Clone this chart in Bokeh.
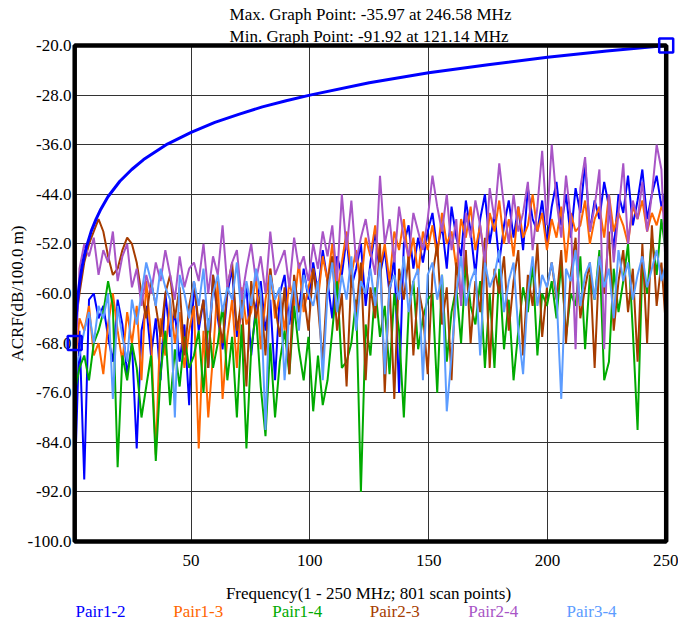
import numpy as np
from bokeh.plotting import figure
from bokeh.layouts import column
from bokeh.models import (FixedTicker, PrintfTickFormatter, Range1d, Title, BoxAnnotation)
from bokeh.core.properties import value
from bokeh.embed import file_html
from bokeh.resources import INLINE

# ---------------- data ----------------
freq = np.linspace(1, 250, 125)  # MHz (scan points, decimated)

pair12 = [-91, -66, -90, -61, -60, -64, -62, -67, -71, -61, -65, -73, -68, -85, -66, -62, -70, -64, -74, -60, -67, -63, -71, -65, -78,
          -58, -66, -61, -72, -57, -64, -69, -60, -56, -67, -63, -59, -70, -62, -58, -66, -61, -74, -60, -57, -65, -59, -63, -56, -61,
          -55, -60, -53, -58, -64, -54, -57, -51, -59, -56, -52, -62, -55, -50, -57, -53, -60, -54, -76, -52, -49, -56, -51, -55, -50,
          -47, -53, -49, -56, -46, -51, -54, -45, -50, -57, -48, -44, -52, -47, -55, -49, -45, -51, -46, -53, -43, -48, -50, -45, -52,
          -46, -42, -49, -44, -51, -43, -47, -39, -50, -45, -48, -42, -46, -53, -44, -47, -41, -49, -45, -40, -48, -44, -41, -46, -43]
pair13 = [-72, -64, -66, -62, -70, -68, -73, -65, -60, -66, -71, -63, -68, -62, -74, -58, -67, -86, -64, -70, -61, -68, -63, -72, -66,
          -62, -85, -66, -80, -70, -58, -77, -67, -61, -72, -59, -65, -63, -57, -69, -61, -56, -64, -60, -66, -58, -62, -55, -63, -59,
          -56, -61, -54, -58, -52, -60, -55, -50, -57, -53, -59, -51, -54, -49, -56, -52, -58, -50, -53, -48, -55, -51, -57, -50, -53,
          -49, -54, -47, -52, -50, -56, -48, -51, -46, -53, -49, -55, -47, -50, -45, -52, -48, -54, -46, -51, -49, -44, -50, -47, -53,
          -48, -51, -46, -55, -47, -50, -49, -45, -52, -48, -46, -51, -44, -50, -47, -49, -52, -46, -48, -45, -50, -47, -49, -46, -48]
pair14 = [-76, -72, -70, -74, -68, -66, -63, -58, -62, -88, -70, -74, -68, -72, -80, -75, -70, -87, -73, -66, -78, -69, -75, -67, -72,
          -70, -66, -76, -64, -72, -68, -62, -74, -67, -80, -65, -85, -69, -63, -75, -83, -68, -80, -71, -66, -73, -62, -69, -74, -67,
          -79, -70, -78, -74, -66, -58, -72, -71, -68, -61, -92, -65, -70, -59, -67, -62, -73, -60, -66, -80, -63, -58, -69, -64, -61,
          -60, -76, -57, -71, -63, -59, -68, -55, -62, -65, -58, -72, -60, -72, -56, -69, -61, -74, -66, -59, -63, -55, -70, -60, -62,
          -58, -64, -55, -67, -60, -62, -54, -69, -57, -61, -53, -74, -71, -56, -63, -58, -52, -66, -82, -55, -60, -51, -57, -48, -54]
pair23 = [-66, -60, -55, -52, -50, -48, -50, -54, -57, -56, -53, -51, -52, -55, -60, -64, -58, -62, -67, -60, -57, -64, -59, -70, -62,
          -58, -65, -61, -72, -57, -63, -68, -59, -55, -66, -61, -75, -58, -64, -60, -70, -56, -62, -67, -59, -73, -57, -63, -60, -66,
          -56, -62, -71, -58, -54, -66, -60, -75, -57, -63, -55, -74, -59, -64, -52, -76, -58, -77, -56, -61, -54, -70, -59, -63, -73,
          -57, -52, -65, -59, -74, -55, -61, -53, -68, -58, -63, -51, -72, -56, -60, -54, -66, -58, -53, -70, -57, -62, -52, -67, -59,
          -55, -61, -53, -68, -57, -51, -64, -59, -55, -72, -54, -60, -50, -66, -58, -53, -63, -56, -71, -52, -68, -49, -62, -55, -66]
pair24 = [-74, -56, -52, -54, -51, -57, -53, -55, -50, -58, -54, -52, -59, -56, -62, -57, -60, -55, -58, -53, -57, -61, -54, -59, -56,
          -55, -58, -52, -60, -54, -57, -49, -59, -55, -53, -61, -56, -52, -58, -54, -60, -50, -57, -55, -53, -59, -51, -56, -54, -58,
          -52, -56, -50, -54, -49, -58, -44, -53, -45, -55, -51, -48, -53, -57, -41, -52, -48, -55, -46, -51, -54, -47, -50, -53, -48,
          -41, -46, -50, -44, -53, -48, -62, -47, -51, -45, -49, -55, -43, -48, -39, -46, -52, -44, -50, -47, -42, -53, -46, -37, -49,
          -36, -45, -51, -41, -48, -69, -43, -38, -50, -46, -40, -69, -44, -55, -47, -39, -52, -45, -48, -42, -50, -44, -36, -40, -58]
pair34 = [-72, -70, -66, -63, -68, -62, -64, -60, -77, -62, -67, -71, -61, -65, -60, -55, -58, -62, -56, -59, -61, -80, -57, -60, -64,
          -58, -62, -56, -66, -60, -57, -63, -59, -61, -55, -64, -58, -62, -56, -60, -82, -57, -61, -59, -74, -63, -58, -66, -57, -60,
          -62, -58, -74, -60, -55, -63, -57, -61, -54, -66, -58, -60, -56, -62, -55, -73, -59, -57, -61, -54, -63, -58, -56, -74, -57,
          -55, -61, -57, -79, -70, -60, -54, -62, -58, -56, -70, -55, -59, -57, -53, -63, -58, -55, -66, -73, -60, -54, -62, -57, -59,
          -55, -60, -77, -56, -58, -53, -62, -57, -55, -61, -54, -59, -56, -64, -53, -58, -55, -61, -57, -54, -59, -56, -53, -58, -55]

limit_freq = [1, 1.5, 2, 2.5, 3, 4, 5, 6, 8, 10, 12, 15, 20, 25, 30, 40, 50, 60, 70, 80, 90, 100, 125, 150, 175, 200, 225, 250]
limit_db = [-68.0, -64.4, -61.9, -60.0, -58.4, -55.9, -54.0, -52.4, -49.9, -48.0, -46.4, -44.4, -41.9, -40.0, -38.4, -35.9,
            -34.0, -32.4, -31.1, -29.9, -28.9, -28.0, -26.0, -24.4, -23.1, -21.9, -20.9, -20.0]
marker_freq = [1, 250]
marker_db = [-68, -20]

series_names = ["Pair1-2", "Pair1-3", "Pair1-4", "Pair2-3", "Pair2-4", "Pair3-4"]
series_colors = ["#0000FF", "#FF6600", "#00AA00", "#A63C00", "#A855C6", "#5C9CFF"]
x_ticks = [50, 100, 150, 200, 250]
y_ticks = [-100, -92, -84, -76, -68, -60, -52, -44, -36, -28, -20]
x_lo, x_hi = 1, 250
y_lo, y_hi = -100, -20

title1 = "Max. Graph Point: -35.97 at 246.58 MHz"
title2 = "Min. Graph Point: -91.92 at 121.14 MHz"
x_title = "Frequency(1 - 250 MHz; 801 scan points)"
y_title = "ACRF(dB/100.0 m)"

FONT = "Liberation Serif"
FS = "17px"

# ---------------- layout constants (pixels) ----------------
BOX_W, BOX_H = 591.5, 496.0      # size of the bordered plot box
FRAME_W, FRAME_H = 608, 512      # frame is a bit larger so the end markers show
BORDER_L, BORDER_R = 66, 4
BORDER_T, BORDER_B = 37, 23
PAD_L = 8.2
PAD_T = 8
ppx = BOX_W / (x_hi - x_lo)
ppy = BOX_H / (y_hi - y_lo)
xr = Range1d(x_lo - PAD_L / ppx, x_hi + (FRAME_W - PAD_L - BOX_W) / ppx)
yr = Range1d(y_lo - (FRAME_H - PAD_T - BOX_H) / ppy, y_hi + PAD_T / ppy)

p = figure(frame_width=FRAME_W, frame_height=FRAME_H,
           min_border_left=BORDER_L, min_border_right=BORDER_R,
           min_border_top=BORDER_T, min_border_bottom=BORDER_B,
           x_range=xr, y_range=yr, output_backend="svg", toolbar_location=None)
p.outline_line_color = None
p.title.text = ""

p.add_layout(Title(text=title1 + "\n" + title2, align="center", text_font=FONT,
                   text_font_size=FS, text_font_style="normal", text_color="black",
                   text_line_height=1.16, standoff=-17), "above")

for ax in (p.xaxis[0], p.yaxis[0]):
    ax.axis_line_color = None
    ax.major_tick_line_color = None
    ax.minor_tick_line_color = None
    ax.major_tick_out = 0
    ax.major_tick_in = 0
    ax.major_label_text_font = FONT
    ax.major_label_text_font_size = FS
    ax.major_label_text_color = "black"
    ax.axis_label_text_font = FONT
    ax.axis_label_text_font_size = FS
    ax.axis_label_text_font_style = "normal"
    ax.axis_label_text_color = "black"

p.xaxis.ticker = FixedTicker(ticks=x_ticks)
p.yaxis.ticker = FixedTicker(ticks=y_ticks)
p.yaxis.formatter = PrintfTickFormatter(format="%.1f")
p.xaxis.major_label_standoff = 5
p.yaxis.major_label_standoff = -5
p.yaxis.axis_label = y_title
p.yaxis.axis_label_standoff = -2

p.xgrid.ticker = FixedTicker(ticks=x_ticks)
p.ygrid.ticker = FixedTicker(ticks=y_ticks)
p.xgrid.cross_bounds = (y_lo, y_hi)
p.ygrid.cross_bounds = (x_lo, x_hi)
for g in (p.xgrid[0], p.ygrid[0]):
    g.grid_line_color = "#333333"
    g.grid_line_width = 1

for vals, col in zip([pair12, pair13, pair14, pair23, pair24, pair34], series_colors):
    p.line(freq, vals, line_color=col, line_width=2)

p.line(limit_freq, limit_db, line_color="#0000FF", line_width=3)

p.add_layout(BoxAnnotation(left=x_lo, right=x_hi, bottom=y_lo, top=y_hi,
                           fill_alpha=0, line_color="black", line_width=4.5, line_alpha=1))

mk = p.scatter(marker_freq, marker_db, marker="square", size=14, fill_color=None,
               line_color="#0000FF", line_width=2.5)
mk.level = "overlay"

# ---------------- bottom strip: x title + legend (page-pixel coordinates) ----------------
STRIP_TOP = BORDER_T + FRAME_H + BORDER_B
STRIP_BOTTOM = 620
legend_x = [75, 172.7, 271.7, 369.3, 467.7, 566]
strip = figure(frame_width=FRAME_W, frame_height=STRIP_BOTTOM - STRIP_TOP,
               min_border_left=BORDER_L, min_border_right=BORDER_R, min_border_top=0, min_border_bottom=0,
               x_range=Range1d(BORDER_L, BORDER_L + FRAME_W), y_range=Range1d(STRIP_BOTTOM, STRIP_TOP),
               output_backend="svg", toolbar_location=None, x_axis_type=None, y_axis_type=None)
strip.outline_line_color = None
strip.xgrid.visible = False
strip.ygrid.visible = False

strip.text(x=[368], y=[593], text=[x_title], text_color="black", text_font=value(FONT),
           text_font_size=FS, text_align="center", text_baseline="alphabetic")

for lx, name, col in zip(legend_x, series_names, series_colors):
    strip.text(x=[lx], y=[611], text=[name], text_color=col, text_font=value(FONT),
               text_font_size=FS, text_align="left", text_baseline="alphabetic")

layout = column(p, strip, spacing=0)
open("out.html", "w").write(file_html(layout, INLINE))
